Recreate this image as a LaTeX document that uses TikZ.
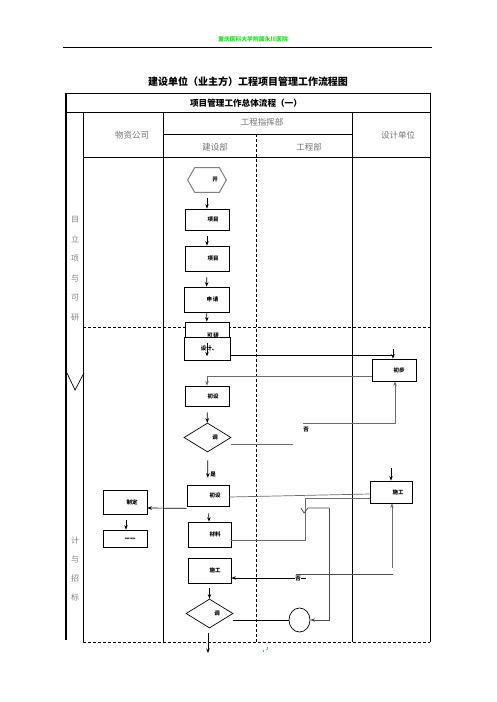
\documentclass[tikz,border=0pt]{standalone}
\usepackage{fontspec}
\newfontfamily\cjk{Noto Sans CJK SC}
\usetikzlibrary{arrows.meta,shapes.geometric}
\definecolor{hdgreen}{RGB}{30,225,30}
\newcommand{\rt}[2][12pt]{\hspace*{#1}#2}
\begin{document}
\begin{tikzpicture}[x=1pt,y=-1pt,line width=0.7pt,>={Stealth[length=4.5pt,width=3.5pt]},
  box/.style={draw,fill=white,inner sep=0pt,minimum width=44pt,minimum height=23pt,font=\cjk\bfseries\fontsize{5.5}{6}\selectfont},
  dec/.style={draw,diamond,inner sep=0pt,minimum width=47pt,minimum height=29pt,font=\cjk\bfseries\fontsize{5.5}{6}\selectfont},
  lane/.style={text=black!55,font=\cjk\fontsize{8.5}{10}\selectfont},
  side/.style={text=black!50,font=\cjk\fontsize{8}{10}\selectfont},
  lbl/.style={font=\cjk\bfseries\fontsize{5.5}{6}\selectfont},
  gline/.style={draw=black!58},
  dline/.style={dash pattern=on 3pt off 2pt}]
  \useasboundingbox (0,0) rectangle (496,702);

  %Page header and title
  \node[text=hdgreen,font=\cjk\bfseries\fontsize{5.8}{6}\selectfont] (hdr) at (253,39) {重庆医科大学附属永川医院};
  \draw[line width=1pt] (63,47) -- (432,47);
  \node[font=\cjk\bfseries\fontsize{10}{12}\selectfont] (title) at (248,82) {建设单位（业主方）工程项目管理工作流程图};
  \node[font=\cjk\bfseries\fontsize{8.6}{10}\selectfont] (subtitle) at (246,103) {项目管理工作总体流程（一）};

  %Table frame
  \draw (66,93) -- (430,93) -- (430,642);
  \draw (66,112) -- (430,112);
  \draw[line width=1.8pt] (66,93) -- (66,640);
  \draw (83,112) -- (83,642);
  \draw (163,112) -- (163,642);
  \draw (352,112) -- (352,642);
  \draw (163,134) -- (352,134);
  \draw (83,157) -- (430,157);
  \draw[dline] (256,134) -- (256,642);
  \draw[dline] (83,327) -- (430,327);
  \draw[dline] (83,642) -- (430,642);
  \draw (67,373) -- (75,390) -- (84,373);

  %Lane headers
  \node[lane] (wz) at (132,135) {物资公司};
  \node[lane] (zh) at (262,122) {工程指挥部};
  \node[lane] (js) at (215,147) {建设部};
  \node[lane] (gc) at (309,147) {工程部};
  \node[lane] (sd) at (398,135) {设计单位};

  %Stage labels
  \foreach \c [count=\i] in {目,立,项,与,可,研}
    \node[side] (stA\i) at (75,200.5+19.5*\i) {\c};
  \foreach \c [count=\i] in {计,与,招,标}
    \node[side] (stB\i) at (75,521+19*\i) {\c};

  %Flow nodes
  \node[minimum width=38pt,minimum height=24pt,inner sep=0pt,lbl] (start) at (207,180) {\rt[16pt]{开}};
  \draw[black!50,line width=1pt] (start.west) -- ([xshift=7pt]start.north west) -- ([xshift=-7pt]start.north east)
    -- (start.east) -- ([xshift=-7pt]start.south east) -- ([xshift=7pt]start.south west) -- cycle;
  \node[box,minimum height=21pt] (xm1) at (207,219.5) {\rt{项目}};
  \node[box,minimum height=25pt] (xm2) at (207,258.5) {\rt{项目}};
  \node[box,minimum width=45pt,minimum height=25pt] (sq) at (206.5,299.5) {\rt{申\,请}};
  \node[box,minimum height=23pt] (ky) at (207,333.5) {\rt{\raisebox{-4pt}[0pt][0pt]{可\,研}}};
  \node[box,minimum width=46pt,minimum height=23pt] (sj) at (207,348.5) {\rt[4pt]{设计、}};
  \node[box,minimum height=22pt] (cb) at (394,370) {\rt[10pt]{初步}};
  \node[box,minimum height=20pt] (cs1) at (207,396) {\rt{初设}};
  \node[dec] (tz1) at (207.5,437.5) {\rt[15pt]{调}};
  \node[box,minimum width=42pt,minimum height=21pt] (cs2) at (208,495.5) {\rt[14pt]{初设}};
  \node[box,minimum width=43pt,minimum height=25pt] (cl) at (209.5,534.5) {\rt[11pt]{材料}};
  \node[box,minimum width=43pt,minimum height=25pt] (sg1) at (209.5,570.5) {\rt[11pt]{施工}};
  \node[dec] (tz2) at (209.5,613.5) {\rt[15pt]{调}};
  \node[draw,ellipse,inner sep=0pt,minimum width=21pt,minimum height=24pt] (circ) at (299.5,620) {};
  \node[box,minimum width=42pt,minimum height=22pt] (sg2) at (391,492) {\rt[14pt]{施工}};
  \node[box,minimum height=24pt] (zd) at (125,502) {\rt[14pt]{制定}};
  \node[box,minimum height=17pt] (cg) at (125,538.5) {\rt[10pt]{\scalebox{1}[0.3]{采购}}};

  %Free ends
  \coordinate (c1) at (393,355);
  \coordinate (no1) at (303,423);
  \coordinate (j1) at (305,498);
  \coordinate (j2) at (329,508);
  \coordinate (top2) at (391,468);
  \coordinate (no2) at (393,574);
  \coordinate (endp) at (208,653);

  %Connectors
  \draw[->,shorten <=6pt] (start) -- (xm1);
  \draw[->,shorten <=6pt] (xm1) -- (xm2);
  \draw[->,shorten <=6pt] (xm2) -- (sq);
  \draw[->,shorten <=1pt] (sq) -- (ky);
  \draw[->] ([yshift=-6pt]sj.north) -- ([yshift=4pt]sj.south);
  \draw (sj.east |- c1) -- (c1);
  \draw[->] ([yshift=6pt]c1) -- (c1 |- cb.north);
  \draw[gline,->] ([yshift=-6pt]cb.west) -| (cs1.north);
  \draw[->,shorten <=6pt] (cs1) -- (tz1);
  \draw[gline] ([yshift=-6.5pt]tz1.east) -- ++(62,0);
  \draw[gline,->] (no1) -| ([xshift=1pt]cb.south);
  \node[lbl] (fou1) at (306,430) {否};
  \draw[->,shorten <=8pt,shorten >=7pt] (tz1) -- (cs2);
  \node[lbl] (shi) at (213,474) {是};
  \draw[gline] ([yshift=-1.5pt]cs2.east) -- ([yshift=-2pt]sg2.west);
  \draw[gline] ([yshift=-5.5pt]cl.east) -| (j1) -- ([yshift=-6pt]sg2.west);
  \draw[black!70] (301,508) -- (304,513) -- (308,508) -- (j2);
  \draw[black!70,->] (j2) |- (circ.east);
  \draw (tz2.east |- circ) -- (circ.west);
  \draw[->] (top2) -- (sg2.north);
  \draw[gline,->] (392,568) -- (sg2.south -| 392,0);
  \draw[black!70] (no2) -- (296,574);
  \draw[->] (306,578) -- ([yshift=-7.5pt]sg1.east);
  \node[lbl,fill=white,inner sep=0.5pt] (fou2) at (298,579) {否};
  \draw[->,shorten <=7pt] (cs2) -- (cl);
  \draw[->,shorten <=5pt] (sg1) -- (tz2);
  \draw[->,shorten <=5pt] (tz2.south -| endp) -- (endp);
  \draw[->] ([yshift=-2pt]cs2.south west) -- ([yshift=-6pt]zd.east);
  \draw[->,shorten <=6pt] (zd.south -| 126,0) -- (cg.north -| 126,0);

  %Page number
  \fill[hdgreen] (262.5,650) rectangle (264,651.5);
  \node[font=\itshape\fontsize{5}{6}\selectfont,inner sep=0pt] (pg) at (267,649) {1};
\end{tikzpicture}
\end{document}
